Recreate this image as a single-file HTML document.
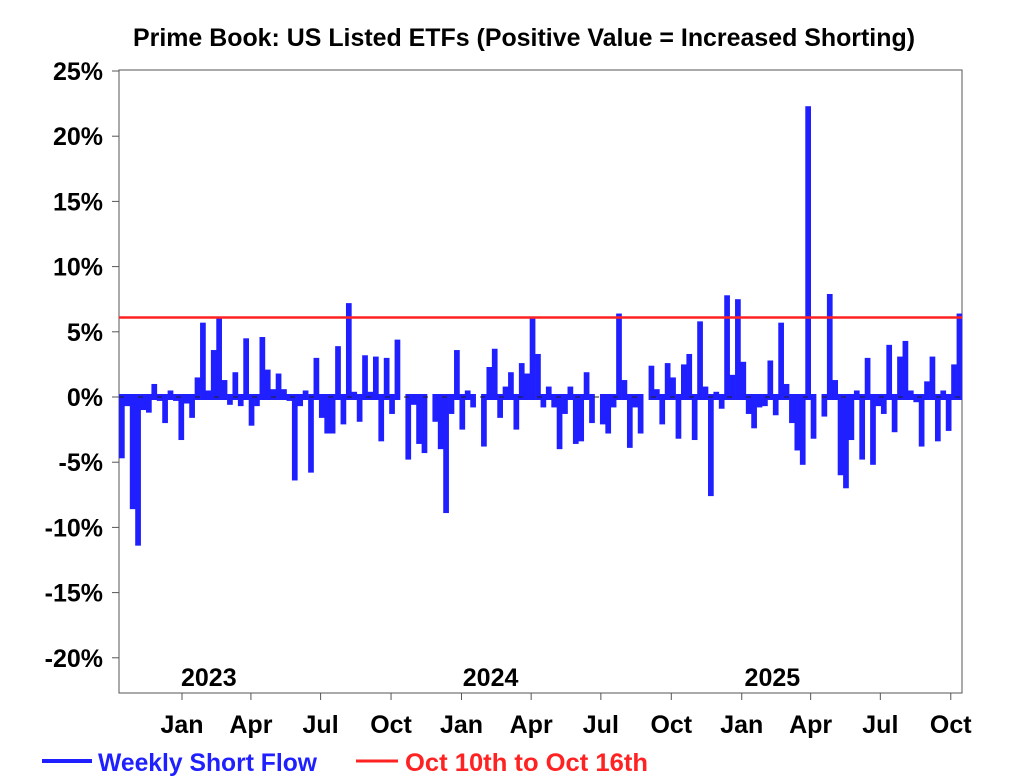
<!DOCTYPE html>
<html><head><meta charset="utf-8"><style>
html,body{margin:0;padding:0;background:#fff;}
svg{display:block;font-family:"Liberation Sans Narrow","Liberation Sans",sans-serif;font-weight:bold;}
</style></head><body>
<svg id="chart" width="1026" height="780" viewBox="0 0 1026 780">
<text x="524" y="46" text-anchor="middle" font-size="25" textLength="782" lengthAdjust="spacingAndGlyphs" fill="#000">Prime Book: US Listed ETFs (Positive Value = Increased Shorting)</text>
<rect x="119" y="70" width="843" height="623" fill="none" stroke="#555" stroke-width="1"/>
<g id="yaxis"></g>
<g id="xaxis"></g>
<g id="bars"></g>
<line id="zero"/>
<line id="ref"/>
<g>
<line x1="42" y1="761" x2="92" y2="761" stroke="#1f1fff" stroke-width="4"/>
<text x="98" y="771" font-size="25" fill="#1f1fff" textLength="219" lengthAdjust="spacingAndGlyphs">Weekly Short Flow</text>
<line x1="356" y1="761" x2="398" y2="761" stroke="#f22" stroke-width="3"/>
<text x="405" y="771" font-size="25" fill="#f22" textLength="243" lengthAdjust="spacingAndGlyphs">Oct 10th to Oct 16th</text>
</g>
</svg>
<script>
const values = [-4.7,-0.7,-8.6,-11.4,-1.0,-1.2,1.0,-0.3,-2.0,0.5,-0.3,-3.3,-0.5,-1.6,1.5,5.7,0.5,3.6,6.1,1.3,-0.6,1.9,-0.7,4.5,-2.2,-0.7,4.6,2.1,0.6,1.8,0.6,-0.3,-6.4,-0.7,0.5,-5.8,3.0,-1.6,-2.8,-2.8,3.9,-2.1,7.2,0.4,-1.9,3.2,0.4,3.1,-3.4,3.0,-1.3,4.4,
0,-4.8,-0.6,-3.6,-4.3,0,-1.9,-4.0,-8.9,-1.3,3.6,-2.5,0.5,-0.8,0,-3.8,2.3,3.7,-1.6,0.8,1.9,-2.5,2.6,1.8,6.1,3.3,-0.8,0.8,-0.8,-4.0,-1.3,0.8,-3.6,-3.4,1.9,-2.0,0,-2.1,-2.8,-0.8,6.4,1.3,-3.9,-0.8,-2.8,0,2.4,0.6,-2.1,2.6,1.5,-3.2,
2.5,3.3,-3.3,5.8,0.8,-7.6,0.4,-0.9,7.8,1.7,7.5,2.7,-1.3,-2.4,-0.8,-0.7,2.8,-1.4,5.7,1.0,-2.0,-4.1,-5.2,22.3,-3.2,0,-1.5,7.9,1.3,-6.0,-7.0,-3.3,0.5,-4.8,3.0,-5.2,-0.7,-1.3,4.0,-2.7,3.1,4.3,0.5,-0.4,-3.8,1.2,3.1,-3.4,0.5,-2.6,2.5,6.4];
const refValue = 6.1;
const yTicks = [25,20,15,10,5,0,-5,-10,-15,-20];
const monthLabels = ["Jan","Apr","Jul","Oct","Jan","Apr","Jul","Oct","Jan","Apr","Jul","Oct"];
const monthDates = ["2023-01-01","2023-04-01","2023-07-01","2023-10-01","2024-01-01","2024-04-01","2024-07-01","2024-10-01","2025-01-01","2025-04-01","2025-07-01","2025-10-01"];
const yearLabels = ["2023","2024","2025"];
const yearDates = ["2023-02-05","2024-02-08","2025-02-10"];
const anchorDate = "2023-01-01";

const NS="http://www.w3.org/2000/svg";
const L=119,R=962,T=70,B=693;
const y=v=>397-(v)*13.04;
const bw=(R-L)/values.length;
const dayToX=d=>182+((new Date(d)-new Date(anchorDate))/86400000/7)*5.36;
function mk(tag,attrs,parent){const e=document.createElementNS(NS,tag);for(const k in attrs)e.setAttribute(k,attrs[k]);parent.appendChild(e);return e;}
const yg=document.getElementById('yaxis');
yTicks.forEach(t=>{
  const l=mk('line',{x1:112,x2:119,y1:y(t),y2:y(t),stroke:'#555'},yg);
  
  
  const tx=mk('text',{x:103,y:y(t)+9,'text-anchor':'end','font-size':25},yg);
  tx.textContent=t+'%';
  
  
});
const xg=document.getElementById('xaxis');
monthLabels.forEach((m,i)=>{
  const x=dayToX(monthDates[i]);
  const l=mk('line',{x1:x,x2:x,y1:B,y2:B+7,stroke:'#555'},xg);
  
  
  const tx=mk('text',{x:x,y:733,'text-anchor':'middle','font-size':25},xg);
  tx.textContent=m;
  
  
});
yearLabels.forEach((yl,i)=>{
  const tx=mk('text',{x:dayToX(yearDates[i]),y:686,'text-anchor':'middle','font-size':25},xg);
  tx.textContent=yl;
  
  
});
const bg=document.getElementById('bars');
values.forEach((v,i)=>{
  if(v===0)return;
  const x=L+i*bw;
  const y1=Math.min(y(v),394), y2=Math.max(y(v),400);
  const r=mk('rect',{x:x,y:y1,width:bw+0.3,height:y2-y1,fill:'#1f1fff'},bg);
  
  
});
const z=document.getElementById('zero');
z.setAttribute('x1',L);z.setAttribute('x2',R);z.setAttribute('y1',y(0));z.setAttribute('y2',y(0));
z.setAttribute('stroke','#222');z.setAttribute('stroke-width','1');z.setAttribute('stroke-dasharray','5,14');
const rl=document.getElementById('ref');
rl.setAttribute('x1',L);rl.setAttribute('x2',R);rl.setAttribute('y1',y(refValue));rl.setAttribute('y2',y(refValue));
rl.setAttribute('stroke','#f22');rl.setAttribute('stroke-width','2.5');
</script>
</body></html>
